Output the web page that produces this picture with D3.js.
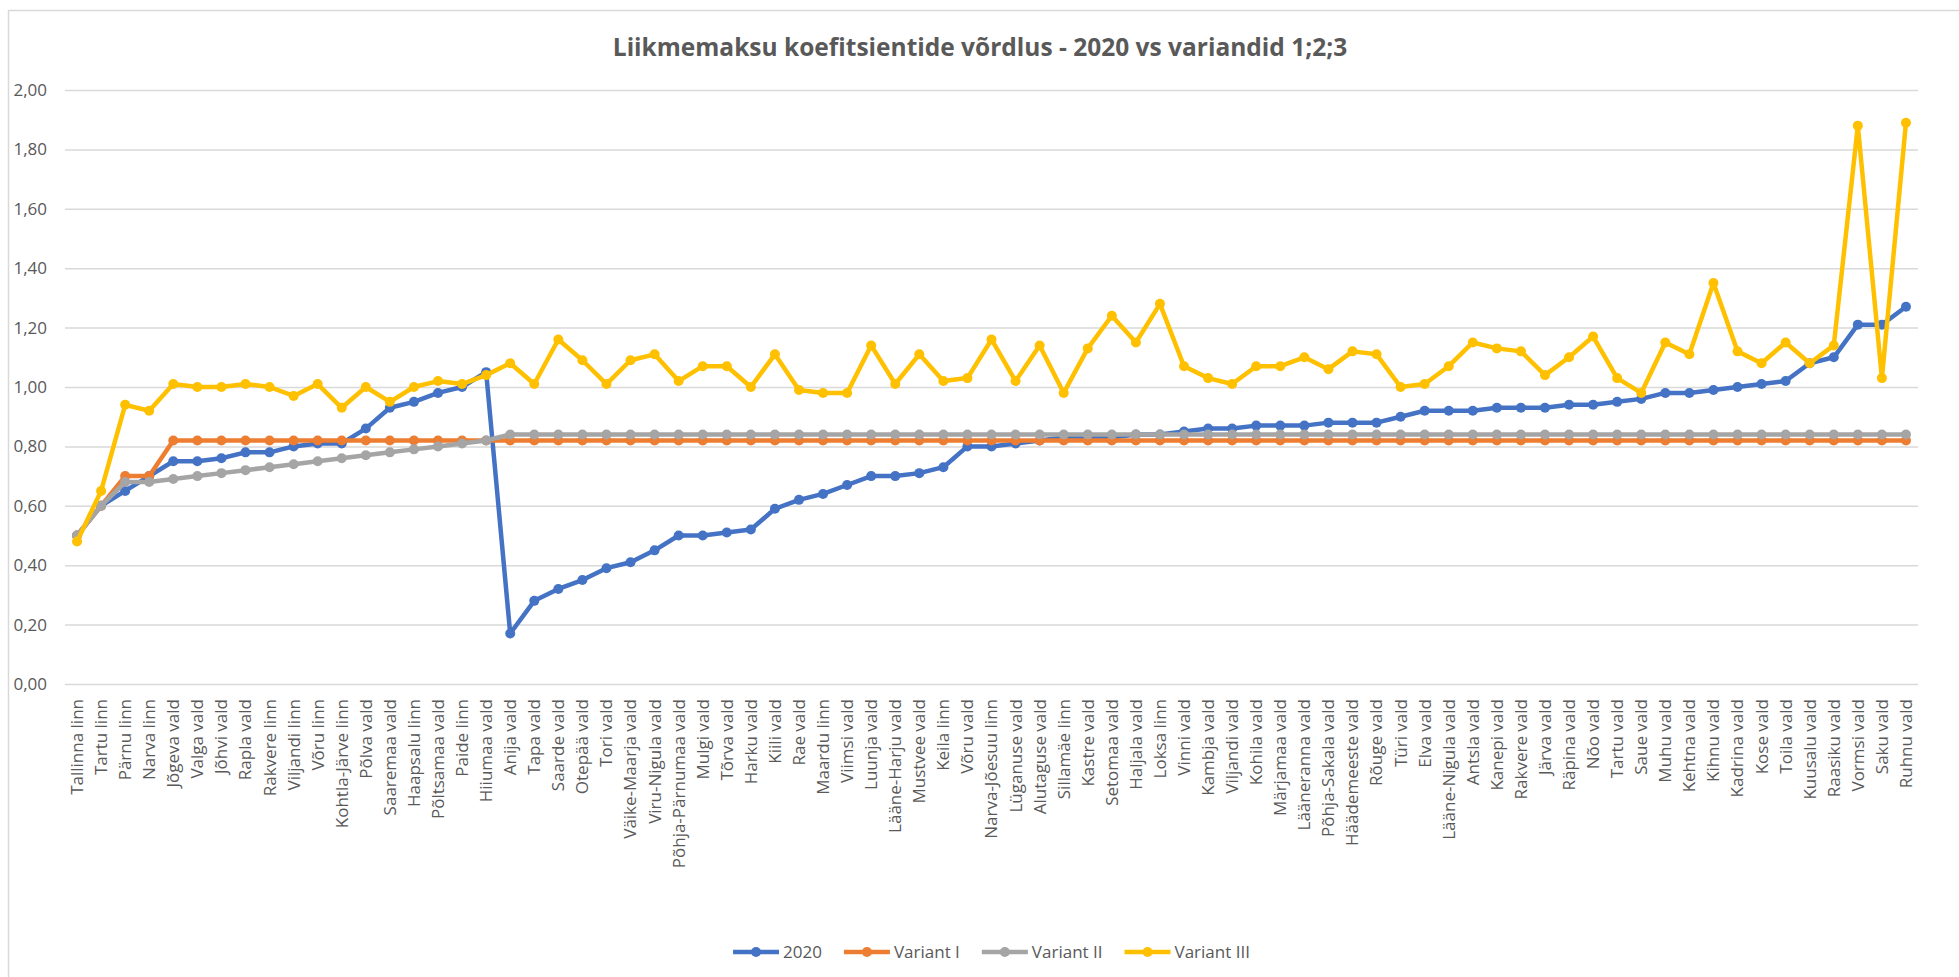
<!DOCTYPE html>
<html lang="et">
<head>
<meta charset="utf-8"/>
<title>Liikmemaksu koefitsientide võrdlus</title>
<script src="https://cdn.jsdelivr.net/npm/d3@7"></script>
<style>
  body { margin: 0; background: #ffffff; }
  svg { display: block; font-family: "Open Sans", sans-serif; }
</style>
</head>
<body>
<svg id="chart"></svg>
<script>

const categories = ["Tallinna linn","Tartu linn","Pärnu linn","Narva linn","Jõgeva vald","Valga vald","Jõhvi vald","Rapla vald","Rakvere linn","Viljandi linn","Võru linn","Kohtla-Järve linn","Põlva vald","Saaremaa vald","Haapsalu linn","Põltsamaa vald","Paide linn","Hiiumaa vald","Anija vald","Tapa vald","Saarde vald","Otepää vald","Tori vald","Väike-Maarja vald","Viru-Nigula vald","Põhja-Pärnumaa vald","Mulgi vald","Tõrva vald","Harku vald","Kiili vald","Rae vald","Maardu linn","Viimsi vald","Luunja vald","Lääne-Harju vald","Mustvee vald","Keila linn","Võru vald","Narva-Jõesuu linn","Lüganuse vald","Alutaguse vald","Sillamäe linn","Kastre vald","Setomaa vald","Haljala vald","Loksa linn","Vinni vald","Kambja vald","Viljandi vald","Kohila vald","Märjamaa vald","Lääneranna vald","Põhja-Sakala vald","Häädemeeste vald","Rõuge vald","Türi vald","Elva vald","Lääne-Nigula vald","Antsla vald","Kanepi vald","Rakvere vald","Järva vald","Räpina vald","Nõo vald","Tartu vald","Saue vald","Muhu vald","Kehtna vald","Kihnu vald","Kadrina vald","Kose vald","Toila vald","Kuusalu vald","Raasiku vald","Vormsi vald","Saku vald","Ruhnu vald"]

const v2020 = [0.50,0.60,0.65,0.70,0.75,0.75,0.76,0.78,0.78,0.80,0.81,0.81,0.86,0.93,0.95,0.98,1.00,1.05,0.17,0.28,0.32,0.35,0.39,0.41,0.45,0.50,0.50,0.51,0.52,0.59,0.62,0.64,0.67,0.70,0.70,0.71,0.73,0.80,0.80,0.81,0.82,0.83,0.83,0.83,0.84,0.84,0.85,0.86,0.86,0.87,0.87,0.87,0.88,0.88,0.88,0.90,0.92,0.92,0.92,0.93,0.93,0.93,0.94,0.94,0.95,0.96,0.98,0.98,0.99,1.00,1.01,1.02,1.08,1.10,1.21,1.21,1.27]

const variantI = [0.50,0.60,0.70,0.70,0.82,0.82,0.82,0.82,0.82,0.82,0.82,0.82,0.82,0.82,0.82,0.82,0.82,0.82,0.82,0.82,0.82,0.82,0.82,0.82,0.82,0.82,0.82,0.82,0.82,0.82,0.82,0.82,0.82,0.82,0.82,0.82,0.82,0.82,0.82,0.82,0.82,0.82,0.82,0.82,0.82,0.82,0.82,0.82,0.82,0.82,0.82,0.82,0.82,0.82,0.82,0.82,0.82,0.82,0.82,0.82,0.82,0.82,0.82,0.82,0.82,0.82,0.82,0.82,0.82,0.82,0.82,0.82,0.82,0.82,0.82,0.82,0.82]

const variantII = [0.50,0.60,0.68,0.68,0.69,0.70,0.71,0.72,0.73,0.74,0.75,0.76,0.77,0.78,0.79,0.80,0.81,0.82,0.84,0.84,0.84,0.84,0.84,0.84,0.84,0.84,0.84,0.84,0.84,0.84,0.84,0.84,0.84,0.84,0.84,0.84,0.84,0.84,0.84,0.84,0.84,0.84,0.84,0.84,0.84,0.84,0.84,0.84,0.84,0.84,0.84,0.84,0.84,0.84,0.84,0.84,0.84,0.84,0.84,0.84,0.84,0.84,0.84,0.84,0.84,0.84,0.84,0.84,0.84,0.84,0.84,0.84,0.84,0.84,0.84,0.84,0.84]

const variantIII = [0.48,0.65,0.94,0.92,1.01,1.00,1.00,1.01,1.00,0.97,1.01,0.93,1.00,0.95,1.00,1.02,1.01,1.04,1.08,1.01,1.16,1.09,1.01,1.09,1.11,1.02,1.07,1.07,1.00,1.11,0.99,0.98,0.98,1.14,1.01,1.11,1.02,1.03,1.16,1.02,1.14,0.98,1.13,1.24,1.15,1.28,1.07,1.03,1.01,1.07,1.07,1.10,1.06,1.12,1.11,1.00,1.01,1.07,1.15,1.13,1.12,1.04,1.10,1.17,1.03,0.98,1.15,1.11,1.35,1.12,1.08,1.15,1.08,1.14,1.88,1.03,1.89]

const seriesNames = ["2020","Variant I","Variant II","Variant III"]
const seriesColors = ["#4472C4","#ED7D31","#A5A5A5","#FFC000"]
const yTicks = [0,0.2,0.4,0.6,0.8,1.0,1.2,1.4,1.6,1.8,2.0]

const series = [v2020, variantI, variantII, variantIII].map((values, i) => ({
  name: seriesNames[i],
  color: seriesColors[i],
  values: values
}))

const width = 1959
const height = 977
const margin = {top: 90, right: 41, bottom: 293, left: 65}
const textColor = "#595959"
const gridColor = "#d9d9d9"

const svg = d3.select("#chart")
  .attr("width", width)
  .attr("height", height)

svg.append("rect")
  .attr("width", width)
  .attr("height", height)
  .attr("fill", "#ffffff")

// chart area border (runs off the right/bottom edge in the original)
svg.append("rect")
  .attr("x", 8.5)
  .attr("y", 10.5)
  .attr("width", width + 20)
  .attr("height", height + 20)
  .attr("fill", "none")
  .attr("stroke", gridColor)
  .attr("stroke-width", 1.5)

const x = d3.scaleBand()
  .domain(categories)
  .range([margin.left, width - margin.right])

const y = d3.scaleLinear()
  .domain([0, 2])
  .range([height - margin.bottom, margin.top])

const cx = (d) => x(d) + x.bandwidth() / 2

// y axis + gridlines
const yAxis = svg.append("g")
  .attr("transform", `translate(${margin.left},0)`)
  .call(d3.axisLeft(y)
    .tickValues(yTicks)
    .tickSize(-(width - margin.left - margin.right))
    .tickPadding(18)
    .tickFormat((d) => d3.format(".2f")(d).replace(".", ",")))

yAxis.select(".domain").remove()
yAxis.selectAll(".tick line")
  .attr("stroke", gridColor)
  .attr("stroke-width", 1.5)
yAxis.selectAll(".tick text")
  .attr("fill", textColor)
  .style("font-size", "17px")
  .style("font-family", "'Open Sans', sans-serif")

// x axis labels
const xAxis = svg.append("g")
  .attr("transform", `translate(0,${height - margin.bottom})`)
  .call(d3.axisBottom(x).tickSize(0))

xAxis.select(".domain").remove()
xAxis.selectAll(".tick text")
  .attr("transform", "rotate(-90)")
  .attr("text-anchor", "end")
  .attr("x", -15)
  .attr("y", 0)
  .attr("dy", "0.35em")
  .attr("fill", textColor)
  .style("font-size", "17px")
  .style("font-family", "'Open Sans', sans-serif")

// lines and markers
const line = d3.line()
  .x((d, i) => cx(categories[i]))
  .y((d) => y(d))

const groups = svg.append("g")
  .selectAll("g")
  .data(series)
  .enter()
  .append("g")

groups.append("path")
  .attr("d", (s) => line(s.values))
  .attr("fill", "none")
  .attr("stroke", (s) => s.color)
  .attr("stroke-width", 4.5)
  .attr("stroke-linejoin", "round")
  .attr("stroke-linecap", "round")

groups.selectAll("circle")
  .data((s) => s.values.map((v, i) => ({v: v, i: i, color: s.color})))
  .enter()
  .append("circle")
  .attr("cx", (d) => cx(categories[d.i]))
  .attr("cy", (d) => y(d.v))
  .attr("r", 5)
  .attr("fill", (d) => d.color)

// title
svg.append("text")
  .attr("x", 980)
  .attr("y", 56)
  .attr("text-anchor", "middle")
  .attr("fill", textColor)
  .style("font-size", "24.5px")
  .style("font-weight", "bold")
  .style("font-family", "'Open Sans', sans-serif")
  .text("Liikmemaksu koefitsientide võrdlus - 2020 vs variandid 1;2;3")

// legend, centred under the plot
const legend = svg.append("g")
const legendY = 952
const items = legend.selectAll("g")
  .data(series)
  .enter()
  .append("g")

items.append("line")
  .attr("x1", 0)
  .attr("x2", 46)
  .attr("y1", legendY)
  .attr("y2", legendY)
  .attr("stroke", (s) => s.color)
  .attr("stroke-width", 4.5)

items.append("circle")
  .attr("cx", 23)
  .attr("cy", legendY)
  .attr("r", 5)
  .attr("fill", (s) => s.color)

items.append("text")
  .attr("x", 50)
  .attr("y", legendY)
  .attr("dy", "0.35em")
  .attr("fill", textColor)
  .style("font-size", "17px")
  .style("font-family", "'Open Sans', sans-serif")
  .text((s) => s.name)

let offset = 0
const widths = []
items.each(function () {
  const w = 50 + d3.select(this).select("text").node().getComputedTextLength()
  widths.push(w)
})
const total = d3.sum(widths) + 22 * (widths.length - 1)
const start = (margin.left + width - margin.right) / 2 - total / 2
items.attr("transform", (s, i) => {
  const t = `translate(${start + offset},0)`
  offset += widths[i] + 22
  return t
})

</script>
</body>
</html>
